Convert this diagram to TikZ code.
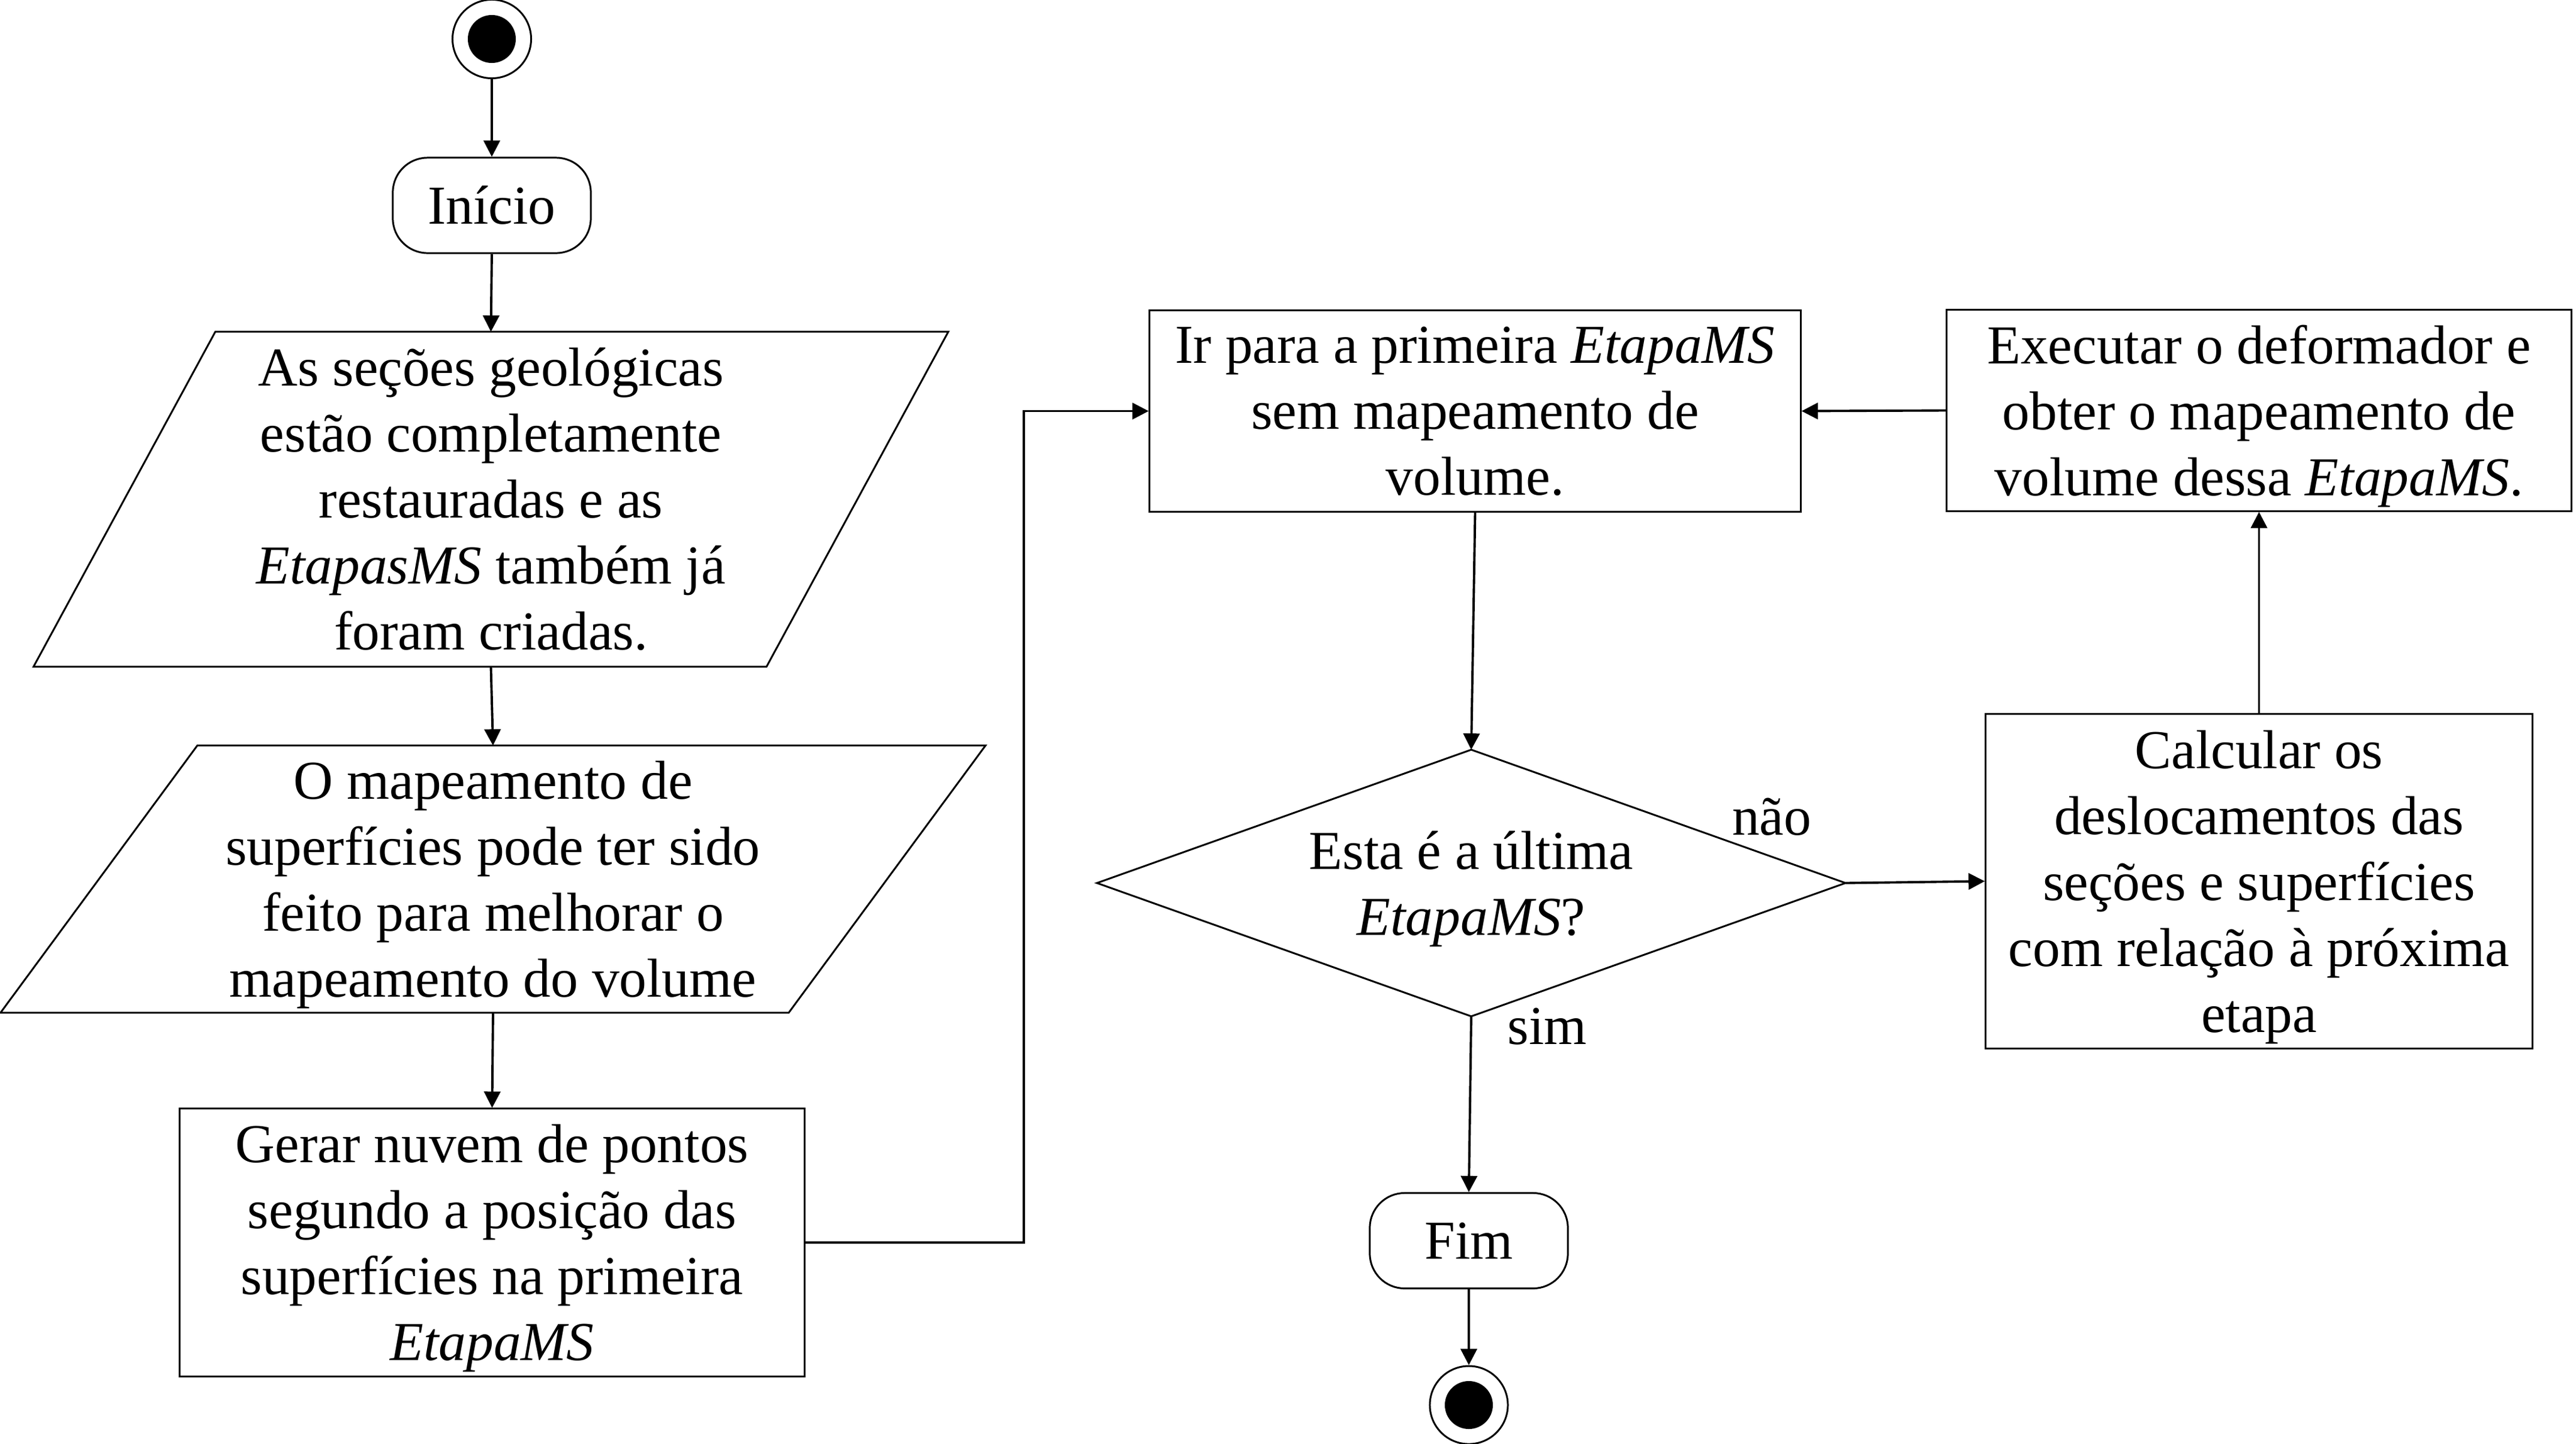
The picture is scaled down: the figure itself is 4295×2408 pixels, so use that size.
\documentclass[tikz,border=0pt]{standalone}
\usepackage{fontspec}
\setmainfont{Liberation Serif}
\usetikzlibrary{arrows.meta}
\begin{document}
\begin{tikzpicture}[x=0.01cm,y=-0.01cm,
  txt/.style={font=\fontsize{26pt}{31.3pt}\selectfont, align=center, inner sep=0pt},
  boxnode/.style={txt, draw, line width=0.85pt, rectangle},
  ghost/.style={txt, rectangle},
  term/.style={txt, draw, line width=0.85pt, rectangle, rounded corners=0.58cm, minimum width=3.3cm, minimum height=1.59cm},
  conn/.style={line width=1.1pt, -{Triangle[length=7.7pt,width=7.7pt]}},
  lbl/.style={txt}
]
\useasboundingbox (0,0) rectangle (4295,2408);

% start / end
\node[circle, draw, line width=0.85pt, minimum size=1.31cm, inner sep=0pt] (st) at (820,65) {};
\fill (st.center) circle (40);
\node[circle, draw, line width=0.85pt, minimum size=1.30cm, inner sep=0pt] (en) at (2449,2343) {};
\fill (en.center) circle (40);

% terminators
\node[term] (ini) at (820,342.5) {Início};
\node[term] (fim) at (2449,2069) {Fim};

% parallelogram 1
\node[ghost, minimum width=15.23cm, minimum height=5.57cm] (p1) at (818.5,832.5)
  {As seções geológicas\\estão completamente\\restauradas e as\\\textit{EtapasMS} também já\\foram criadas.};
\draw[line width=0.85pt] ([xshift=3.03cm]p1.north west) -- (p1.north east) -- ([xshift=-3.03cm]p1.south east) -- (p1.south west) -- cycle;

% parallelogram 2
\node[ghost, minimum width=16.40cm, minimum height=4.44cm] (p2) at (822,1466)
  {O mapeamento de\\superfícies pode ter sido\\feito para melhorar o\\\smash{mapeamento do volume}};
\draw[line width=0.85pt] ([xshift=3.28cm]p2.north west) -- (p2.north east) -- ([xshift=-3.28cm]p2.south east) -- (p2.south west) -- cycle;

% boxes
\node[boxnode, minimum width=10.41cm, minimum height=4.46cm] (ger) at (820.5,2072)
  {Gerar nuvem de pontos\\segundo a posição das\\superfícies na primeira\\\smash{\textit{EtapaMS}}};
\node[boxnode, minimum width=10.85cm, minimum height=3.35cm] (ir) at (2459.5,685.5)
  {Ir para a primeira \textit{EtapaMS}\\sem mapeamento de\\volume.};
\node[boxnode, minimum width=10.41cm, minimum height=3.35cm] (ex) at (3766.5,684.5)
  {Executar o deformador e\\obter o mapeamento de\\\smash{volume dessa \textit{EtapaMS}.}};
\node[boxnode, minimum width=9.11cm, minimum height=5.57cm] (ca) at (3766.5,1469.5)
  {Calcular os\\deslocamentos das\\seções e superfícies\\com relação à próxima\\\smash{etapa}};

% decision
\node[ghost, minimum width=12.46cm, minimum height=4.43cm] (dia) at (2453,1472.5)
  {Esta é a última\\\smash{\textit{EtapaMS}?}};
\draw[line width=0.85pt] (dia.north) -- (dia.east) -- (dia.south) -- (dia.west) -- cycle;

% labels
\node[lbl] (nao) at (2954,1362) {não};
\node[lbl] (sim) at (2580,1712) {sim};

% connectors
\coordinate (k) at (1707,2072);
\draw[conn] (st.south) -- (ini.north);
\draw[conn] (ini.south) -- (p1.north);
\draw[conn] (p1.south) -- (p2.north);
\draw[conn] (p2.south) -- (ger.north);
\draw[conn] (ger.east) -- (k) |- (ir.west);
\draw[conn] (ir.south) -- (dia.north);
\draw[conn] (dia.east) -- (ca.west);
\draw[conn] (ca.north) -- (ex.south);
\draw[conn] (ex.west) -- (ir.east);
\draw[conn] (dia.south) -- (fim.north);
\draw[conn] (fim.south) -- (en.north);
\end{tikzpicture}
\end{document}
